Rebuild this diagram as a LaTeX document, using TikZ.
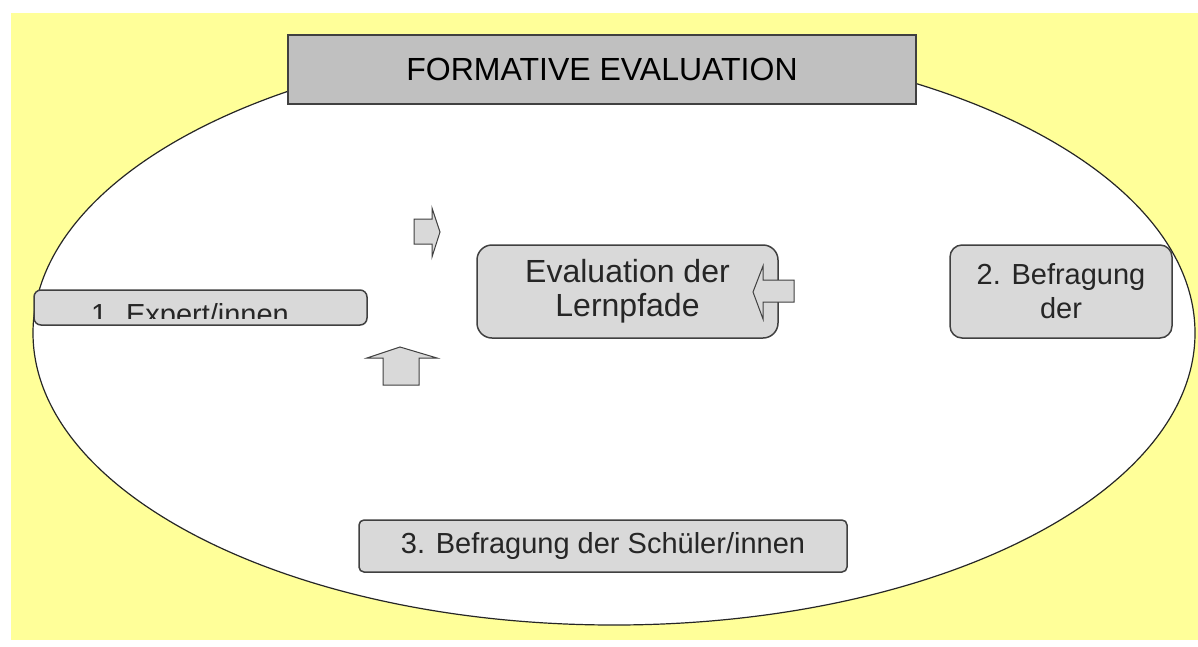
\documentclass[tikz,border=0pt]{standalone}
\usepackage{fontspec}
\setmainfont{Liberation Sans}
\definecolor{bgyellow}{HTML}{FFFF99}
\definecolor{boxgray}{HTML}{D9D9D9}
\definecolor{titlegray}{HTML}{C0C0C0}
\definecolor{edge}{HTML}{404040}
\begin{document}
\begin{tikzpicture}[x=1pt,y=-1pt,
  box/.style={draw=edge, line width=1.5pt, fill=boxgray, text=black!85,
    font=\fontsize{29}{34}\selectfont, align=center, inner sep=0pt},
  titlebox/.style={draw=edge, line width=1.5pt, fill=titlegray, text=black,
    font=\fontsize{32}{36}\selectfont, inner sep=0pt},
  blockarrow/.style={draw=edge, line width=1pt, fill=boxgray},
]
\useasboundingbox (0,0) rectangle (1198,646);
\fill[bgyellow] (11,13) rectangle (1198,640);
\draw[fill=white, line width=1.2pt, draw=black!85] (614,333) ellipse [x radius=581pt, y radius=292pt];

\node[titlebox, minimum width=628pt, minimum height=69pt] (title) at (602,69.5) {FORMATIVE EVALUATION};

\node[box, font=\fontsize{32}{34}\selectfont, rounded corners=15pt, minimum width=301pt, minimum height=93pt] (eval) at (627.5,291.5) {Evaluation der\\Lernpfade};
\node[box, rounded corners=12pt, minimum width=222pt, minimum height=93pt] (befr2) at (1061,291.5) {2. Befragung\\der};
\node[box, rounded corners=5pt, minimum width=488pt, minimum height=52pt] (befr3) at (603,546) {3. Befragung der Schüler/innen};
\node[box, rounded corners=7pt, minimum width=333pt, minimum height=35pt] (exp1) at (200.5,307.5) {};
\begin{scope}
  \clip (36,292) rectangle (365,318);
  \node[anchor=base, text=black!85, font=\fontsize{29}{34}\selectfont, inner sep=0pt] (exp1text) at (190,324) {1. Expert/innen};
\end{scope}

% block arrows
\draw[blockarrow] (414,219) -- (432,219) -- (432,208) -- (440,232) -- (432,257) -- (432,244) -- (414,244) -- cycle;
\draw[blockarrow] (383,385) -- (383,358) -- (367,358) -- (400,347) -- (437,358) -- (419,358) -- (419,385) -- cycle;
\draw[blockarrow] (794,280) -- (763,280) -- (763,266) -- (753,292) -- (763,319) -- (763,302) -- (794,302) -- cycle;
\end{tikzpicture}
\end{document}
